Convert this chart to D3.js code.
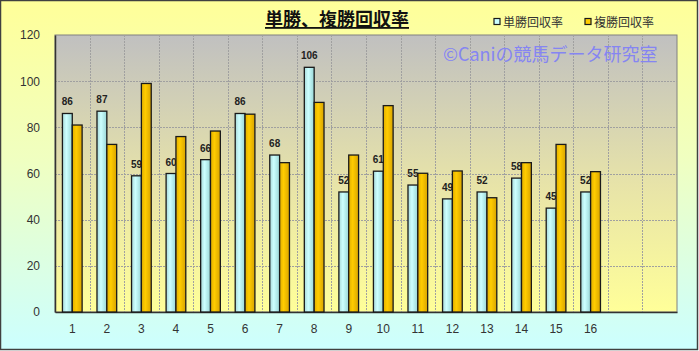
<!DOCTYPE html>
<html>
<head>
<meta charset="utf-8">
<script src="https://cdn.jsdelivr.net/npm/d3@7"></script>
<style>
  body { margin: 0; background: #fff; }
  svg { display: block; }
</style>
</head>
<body>
<div id="chart"></div>
<script>
// Data
const categories = ["1", "2", "3", "4", "5", "6", "7", "8", "9", "10", "11", "12", "13", "14", "15", "16"];
const emptySlots = ["e1", "e2"];   // two blank category slots at the right
const winReturn = [86, 87, 59, 60, 66, 86, 68, 106, 52, 61, 55, 49, 52, 58, 45, 52];
const placeReturn = [81, 72.6, 99, 76, 78.4, 85.7, 64.7, 90.8, 68, 89.4, 60.1, 61.1, 49.5, 64.7, 72.6, 60.8];
const yTicks = [0, 20, 40, 60, 80, 100, 120];
const seriesNames = ["単勝回収率", "複勝回収率"];

const W = 699, H = 351;
const plot = { left: 55, right: 677, top: 35, bottom: 312 };

const svg = d3.select("#chart").append("svg")
    .attr("width", W)
    .attr("height", H);

// Gradients
const defs = svg.append("defs");
function linGrad(id, horiz, stops) {
    const g = defs.append("linearGradient").attr("id", id)
        .attr("x1", 0).attr("y1", 0)
        .attr("x2", horiz ? 1 : 0).attr("y2", horiz ? 0 : 1);
    stops.forEach(s => g.append("stop").attr("offset", s[0]).attr("stop-color", s[1]));
}
linGrad("bgGrad", false, [[0, "#ffff99"], [0.45, "#f0ffc0"], [1, "#ccffff"]]);
linGrad("plotGrad", false, [[0, "#c0c0c0"], [0.55, "#e8e4a8"], [1, "#ffff99"]]);
linGrad("blueGrad", true, [[0, "#a8d8d8"], [0.4, "#ccffff"], [1, "#9ad6d6"]]);
linGrad("goldGrad", true, [[0, "#e0ae00"], [0.4, "#ffcc00"], [1, "#d8a400"]]);

// Chart area background + frame
svg.append("rect")
    .attr("x", 0.5).attr("y", 0.5)
    .attr("width", W - 2).attr("height", H - 2)
    .attr("fill", "url(#bgGrad)")
    .attr("stroke", "#404040")
    .attr("stroke-width", 1.5);

// Scales
const xScale = d3.scaleBand()
    .domain(categories.concat(emptySlots))
    .range([plot.left, plot.right])
    .paddingInner(0)
    .paddingOuter(0);

const yScale = d3.scaleLinear()
    .domain([0, 120])
    .range([plot.bottom, plot.top]);

const bw = xScale.bandwidth();
const barW = bw * 0.285;

// Plot area
svg.append("rect")
    .attr("x", plot.left).attr("y", plot.top)
    .attr("width", plot.right - plot.left)
    .attr("height", plot.bottom - plot.top)
    .attr("fill", "url(#plotGrad)")
    .attr("stroke", "#808080")
    .attr("stroke-width", 1);

// Gridlines
const grid = svg.append("g").attr("class", "grid");
grid.selectAll(".hgrid")
    .data(yTicks.slice(1, -1))
    .enter().append("line")
    .attr("x1", plot.left).attr("x2", plot.right)
    .attr("y1", d => Math.round(yScale(d)) + 0.5)
    .attr("y2", d => Math.round(yScale(d)) + 0.5)
    .attr("stroke", "#a0a0a0")
    .attr("stroke-dasharray", "2,1");

grid.selectAll(".vgrid")
    .data(categories.concat(emptySlots).slice(1))
    .enter().append("line")
    .attr("x1", d => Math.round(xScale(d)) + 0.5)
    .attr("x2", d => Math.round(xScale(d)) + 0.5)
    .attr("y1", plot.top).attr("y2", plot.bottom)
    .attr("stroke", "#a0a0a0")
    .attr("stroke-dasharray", "2,1");

// Watermark
svg.append("text")
    .attr("x", 443)
    .attr("y", 61)
    .attr("font-family", "'Noto Sans CJK JP', sans-serif")
    .attr("font-size", 18)
    .attr("fill", "#8585f2")
    .text("©Caniの競馬データ研究室");

// Axes
const yAxis = d3.axisLeft(yScale).tickValues(yTicks).tickSize(0).tickPadding(15);
const yAxisGroup = svg.append("g")
    .attr("transform", `translate(${plot.left},0)`)
    .call(yAxis);
yAxisGroup.select(".domain").attr("stroke", "#333").attr("stroke-width", 1.5);
yAxisGroup.selectAll("text")
    .attr("font-family", "'Liberation Sans', Arial, sans-serif")
    .attr("font-size", 12)
    .attr("fill", "#333");

const xAxis = d3.axisBottom(xScale).tickValues(categories).tickSize(0).tickPadding(12);
const xAxisGroup = svg.append("g")
    .attr("transform", `translate(0,${plot.bottom})`)
    .call(xAxis);
xAxisGroup.select(".domain").attr("stroke", "#333").attr("stroke-width", 1.5);
xAxisGroup.selectAll("text")
    .attr("font-family", "'Liberation Sans', Arial, sans-serif")
    .attr("font-size", 12)
    .attr("fill", "#333");

// Win (blue) bars
svg.selectAll(".win")
    .data(winReturn)
    .enter().append("rect")
    .attr("class", "win")
    .attr("x", (d, i) => xScale(categories[i]) + bw / 2 - barW)
    .attr("y", d => yScale(d))
    .attr("width", barW)
    .attr("height", d => yScale(0) - yScale(d))
    .attr("fill", "url(#blueGrad)")
    .attr("stroke", "#1a1a1a")
    .attr("stroke-width", 1.3);

// Value labels above blue bars (drawn under the gold bars)
svg.selectAll(".lbl")
    .data(winReturn)
    .enter().append("text")
    .attr("class", "lbl")
    .attr("x", (d, i) => xScale(categories[i]) + bw / 2 - barW / 2)
    .attr("y", d => yScale(d) - 8)
    .attr("text-anchor", "middle")
    .attr("font-family", "'Liberation Sans', Arial, sans-serif")
    .attr("font-weight", "bold")
    .attr("font-size", 10)
    .attr("fill", "#222")
    .text(d => d);

// Place (gold) bars
svg.selectAll(".place")
    .data(placeReturn)
    .enter().append("rect")
    .attr("class", "place")
    .attr("x", (d, i) => xScale(categories[i]) + bw / 2)
    .attr("y", d => yScale(d))
    .attr("width", barW)
    .attr("height", d => yScale(0) - yScale(d))
    .attr("fill", "url(#goldGrad)")
    .attr("stroke", "#1a1a1a")
    .attr("stroke-width", 1.3);

// Title
svg.append("text")
    .attr("x", 337)
    .attr("y", 26)
    .attr("text-anchor", "middle")
    .attr("font-family", "'Noto Sans CJK JP', sans-serif")
    .attr("font-weight", "bold")
    .attr("font-size", 18)
    .attr("fill", "#111")
    .attr("text-decoration", "underline")
    .text("単勝、複勝回収率");

// Legend
const legendX = [494, 585];
const legendFill = ["#ccffff", "#ffcc00"];
const legend = svg.append("g");
seriesNames.forEach((name, i) => {
    legend.append("rect")
        .attr("x", legendX[i]).attr("y", 18.5)
        .attr("width", 6).attr("height", 6)
        .attr("fill", legendFill[i])
        .attr("stroke", "#1a1a1a")
        .attr("stroke-width", 1.2);
    legend.append("text")
        .attr("x", legendX[i] + 9)
        .attr("y", 26.5)
        .attr("font-family", "'Noto Sans CJK JP', sans-serif")
        .attr("font-size", 12)
        .attr("fill", "#333")
        .text(name);
});
</script>
</body>
</html>
